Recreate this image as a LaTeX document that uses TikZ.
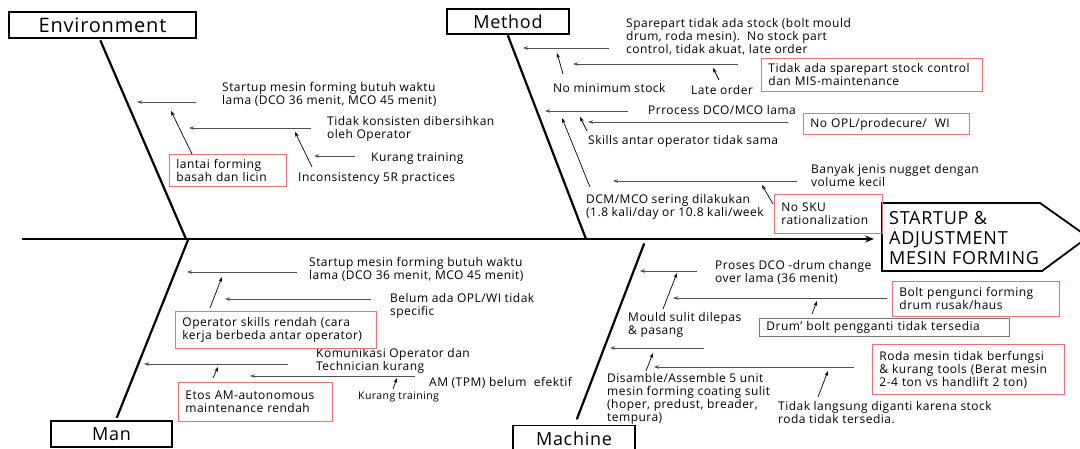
\documentclass[tikz,border=0pt]{standalone}
\usepackage{fontspec}
\setmainfont{Open Sans}[LetterSpace=4]
\usetikzlibrary{arrows.meta}
\definecolor{boxred}{RGB}{236,112,122}
\definecolor{linegray}{RGB}{80,80,80}
\definecolor{boxgray}{RGB}{120,120,120}

\begin{document}
\begin{tikzpicture}[x=1pt,y=-1pt,
  txt/.style={inner sep=0pt, anchor=north west, align=left,
              font=\fontsize{12}{13}\selectfont},
  smalltxt/.style={txt, font=\fontsize{10.5}{11.5}\selectfont},
  catbox/.style={draw, line width=1.5pt, fill=white, inner sep=0pt,
                 font=\fontsize{18}{20}\selectfont},
  redbox/.style={draw=boxred, line width=0.9pt, anchor=north west, align=left,
                 inner xsep=7pt, inner ysep=0pt,
                 font=\fontsize{12}{13}\selectfont},
  graybox/.style={redbox, draw=boxgray},
  bone/.style={line width=2.2pt, line cap=round},
  cause/.style={draw=linegray, line width=0.8pt, -{Stealth[length=5pt,width=3.5pt]}},
  sub/.style={draw=black, line width=0.7pt, -{Stealth[length=5pt,width=3.5pt]}}
]
\useasboundingbox (0,0) rectangle (1080,449);
\clip (0,0) rectangle (1080,449);

% ---------- effect (fish head) ----------
\node[inner sep=0pt, anchor=west, align=left, font=\fontsize{18}{20}\selectfont]
  (effect) at (889,238) {STARTUP \&\\ADJUSTMENT\\MESIN FORMING};
\draw[line width=1.8pt, line join=miter]
  (882,203) -- (1040,203) -- (1088,237) -- (1042,271) -- (882,271) -- cycle;

% ---------- spine ----------
\coordinate (spineL) at (22,239);
\coordinate (spineR) at (874,239);
\draw[line width=2.2pt, -{Stealth[length=9pt,width=7pt]}] (spineL) -- (spineR);

% ---------- category boxes ----------
\node[catbox, minimum width=187pt, minimum height=26pt,
      font=\fontsize{20}{22}\selectfont] (env) at (102.5,25) {Environment};
\node[catbox, minimum width=122pt, minimum height=25pt] (meth) at (508,21.5) {Method};
\node[catbox, minimum width=121pt, minimum height=26pt] (man) at (111.5,434) {Man};
\node[catbox, minimum width=122pt, minimum height=26pt] (mach) at (574,438.5) {Machine};

% ---------- bones ----------
\coordinate (envJ) at (186,239);
\coordinate (methJ) at (586,239);
\coordinate (manJ) at (188,240);
\coordinate (machJ) at (644,244);
\draw[bone] ([xshift=-2pt,yshift=-2pt]env.south) -- (envJ);
\draw[bone] ([yshift=-1pt]meth.south) -- (methJ);
\draw[bone] ([xshift=5.5pt,yshift=3pt]man.north) -- (manJ);
\draw[bone] ([xshift=3pt,yshift=6pt]mach.north) -- (machJ);

% ================= Environment =================
\node[txt] (t1) at (222,82) {Startup mesin forming butuh waktu\\lama (DCO 36 menit, MCO 45 menit)};
\node[txt] (t2) at (327,116) {Tidak konsisten dibersihkan\\oleh Operator};
\node[txt] (t3) at (371,152) {Kurang training};
\node[txt] (t4) at (298,172) {Inconsistency 5R practices};
\node[redbox, minimum width=117pt, minimum height=32pt, text width=103pt]
  (b1) at (169,154) {lantai forming\\basah dan licin};

\coordinate (e1t) at (196,102); \coordinate (e1h) at (137,102);
\coordinate (e2t) at (311,128); \coordinate (e2h) at (189,128);
\coordinate (e3t) at (355,156); \coordinate (e3h) at (314,156);
\coordinate (e4t) at (312,167); \coordinate (e4h) at (295,132);
\coordinate (e5t) at (192,154); \coordinate (e5h) at (171,111);
\draw[cause] (e1t) -- (e1h);
\draw[cause] (e2t) -- (e2h);
\draw[cause] (e3t) -- (e3h);
\draw[sub] (e4t) -- (e4h);
\draw[sub] (e5t) -- (e5h);

% ================= Method =================
\node[txt] (t5) at (626,18) {Sparepart tidak ada stock (bolt mould\\drum, roda mesin).\ \ No stock part\\control, tidak akuat, late order};
\node[txt] (t6) at (553,83) {No minimum stock};
\node[txt] (t7) at (691,85) {Late order};
\node[txt] (t8) at (648,105) {Prrocess DCO/MCO lama};
\node[txt] (t9) at (588,135) {Skills antar operator tidak sama};
\node[txt] (t10) at (811,164) {Banyak jenis nugget dengan\\volume kecil};
\node[txt] (t11) at (586,194) {DCM/MCO sering dilakukan\\(1.8 kali/day or 10.8 kali/week};
\node[redbox, minimum width=221pt, minimum height=33pt, text width=207pt]
  (b2) at (761,58) {Tidak ada sparepart stock control\\dan MIS-maintenance};
\node[redbox, minimum width=166pt, minimum height=21pt, text width=152pt]
  (b3) at (803,113) {No OPL/prodecure/\ \ WI};
\node[redbox, minimum width=108pt, minimum height=39pt, text width=94pt]
  (b4) at (774,194) {No SKU\\rationalization};

\coordinate (m1t) at (609,48);  \coordinate (m1h) at (523,48);
\coordinate (m2t) at (563,74);  \coordinate (m2h) at (557,53);
\coordinate (m3t) at (738,64);  \coordinate (m3h) at (573,64);
\coordinate (m4t) at (719,80);  \coordinate (m4h) at (713,68);
\coordinate (m5t) at (628,111); \coordinate (m5h) at (545,111);
\coordinate (m6t) at (788,122); \coordinate (m6h) at (588,122);
\coordinate (m7t) at (587,131); \coordinate (m7h) at (580,117);
\coordinate (m8t) at (590,187); \coordinate (m8h) at (562,118);
\coordinate (m9t) at (797,181); \coordinate (m9h) at (613,181);
\coordinate (m10t) at (773,204); \coordinate (m10h) at (762,185);
\draw[cause] (m1t) -- (m1h);
\draw[sub] (m2t) -- (m2h);
\draw[cause] (m3t) -- (m3h);
\draw[sub] (m4t) -- (m4h);
\draw[cause] (m5t) -- (m5h);
\draw[cause] (m6t) -- (m6h);
\draw[sub] (m7t) -- (m7h);
\draw[sub] (m8t) -- (m8h);
\draw[cause] (m9t) -- (m9h);
\draw[sub] (m10t) -- (m10h);

% ================= Man =================
\node[txt] (t12) at (309,257) {Startup mesin forming butuh waktu\\lama (DCO 36 menit, MCO 45 menit)};
\node[txt] (t13) at (390,293) {Belum ada OPL/WI tidak\\specific};
\node[txt] (t14) at (316,348) {Komunikasi Operator dan\\Technician kurang};
\node[txt] (t15) at (429,377) {AM (TPM) belum\ \ efektif};
\node[smalltxt] (t16) at (358,392) {Kurang training};
\node[redbox, minimum width=201pt, minimum height=37pt, text width=187pt]
  (b5) at (175,311) {Operator skills rendah (cara\\kerja berbeda antar operator)};
\node[redbox, minimum width=154pt, minimum height=39pt, text width=140pt]
  (b6) at (178,382) {Etos AM-autonomous\\maintenance rendah};

\coordinate (n1t) at (297,272); \coordinate (n1h) at (187,272);
\coordinate (n2t) at (371,299); \coordinate (n2h) at (225,299);
\coordinate (n3t) at (210,308); \coordinate (n3h) at (222,277);
\coordinate (n4t) at (288,364); \coordinate (n4h) at (144,364);
\coordinate (n5t) at (415,376); \coordinate (n5h) at (250,376);
\coordinate (n6t) at (393,389); \coordinate (n6h) at (397,378);
\coordinate (n7t) at (213,378); \coordinate (n7h) at (218,367);
\draw[cause] (n1t) -- (n1h);
\draw[cause] (n2t) -- (n2h);
\draw[sub] (n3t) -- (n3h);
\draw[cause] (n4t) -- (n4h);
\draw[cause] (n5t) -- (n5h);
\draw[sub] (n6t) -- (n6h);
\draw[sub] (n7t) -- (n7h);

% ================= Machine =================
\node[txt] (t17) at (715,260) {Proses DCO -drum change\\over lama (36 menit)};
\node[txt] (t18) at (628,312) {Mould sulit dilepas\\\& pasang};
\node[txt] (t19) at (607,373) {Disamble/Assemble 5 unit\\mesin forming coating sulit\\(hoper, predust, breader,\\tempura)};
\node[txt] (t20) at (778,401) {Tidak langsung diganti karena stock\\roda tidak tersedia.};
\node[redbox, minimum width=167pt, minimum height=35pt, text width=153pt]
  (b7) at (892,281) {Bolt pengunci forming\\drum rusak/haus};
\node[graybox, minimum width=250pt, minimum height=18pt, text width=236pt]
  (b8) at (759,318) {Drum' bolt pengganti tidak tersedia};
\node[redbox, minimum width=192pt, minimum height=50pt, text width=178pt]
  (b9) at (872,344) {Roda mesin tidak berfungsi\\\& kurang tools (Berat mesin\\2-4 ton vs handlift 2 ton)};

\coordinate (c1t) at (697,271); \coordinate (c1h) at (640,271);
\coordinate (c2t) at (887,298); \coordinate (c2h) at (673,298);
\coordinate (c3t) at (663,309); \coordinate (c3h) at (677,273);
\coordinate (c4t) at (812,314); \coordinate (c4h) at (817,301);
\coordinate (c5t) at (704,348); \coordinate (c5h) at (610,348);
\coordinate (c6t) at (854,367); \coordinate (c6h) at (654,367);
\coordinate (c7t) at (646,371); \coordinate (c7h) at (653,353);
\coordinate (c8t) at (818,397); \coordinate (c8h) at (828,371);
\draw[cause] (c1t) -- (c1h);
\draw[cause] (c2t) -- (c2h);
\draw[sub] (c3t) -- (c3h);
\draw[sub] (c4t) -- (c4h);
\draw[cause] (c5t) -- (c5h);
\draw[cause] (c6t) -- (c6h);
\draw[sub] (c7t) -- (c7h);
\draw[sub] (c8t) -- (c8h);
\end{tikzpicture}
\end{document}
